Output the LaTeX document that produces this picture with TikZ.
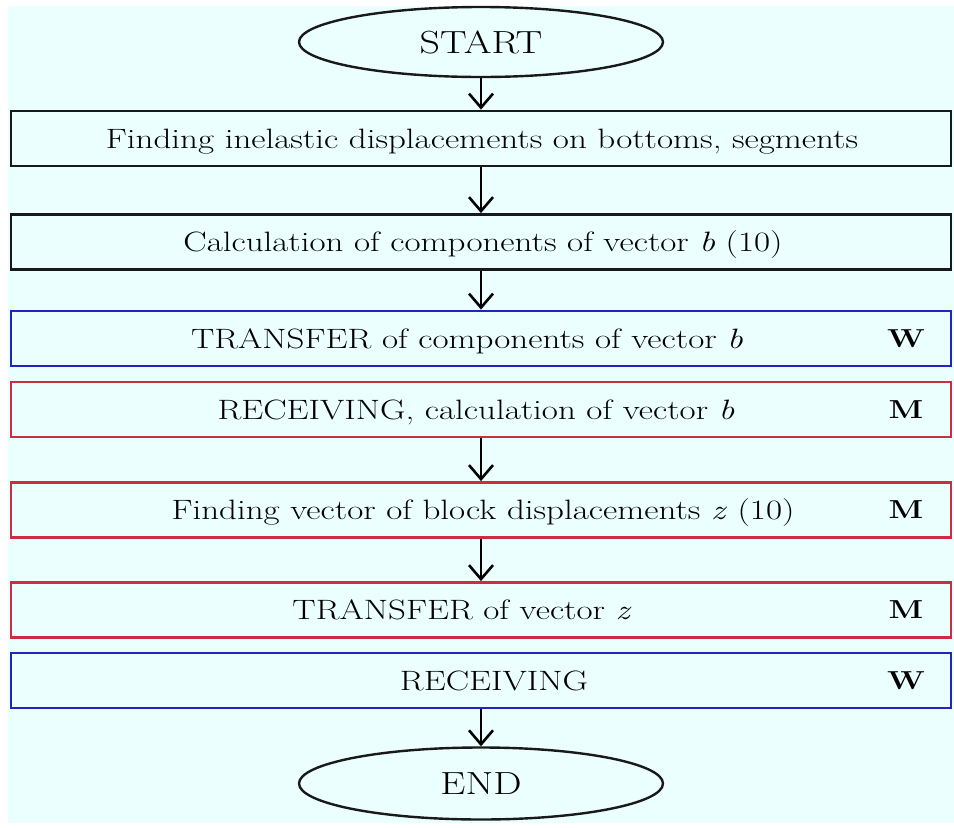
\documentclass[tikz,border=0pt]{standalone}
\usepackage{fontspec}
\setmainfont{Latin Modern Roman}[FakeStretch=1.25]
\usetikzlibrary{shapes.geometric,arrows.meta}
\definecolor{bgc}{RGB}{236,255,255}
\definecolor{bluec}{RGB}{35,35,190}
\definecolor{redc}{RGB}{205,45,65}
\definecolor{darkc}{RGB}{25,25,25}
\begin{document}
\begin{tikzpicture}[x=1pt,y=-1pt,
  box/.style={draw=darkc,line width=2.8pt,minimum width=940pt,minimum height=55pt,inner sep=0pt},
  bluebox/.style={box,draw=bluec},
  redbox/.style={box,draw=redc},
  term/.style={ellipse,draw=darkc,line width=2.4pt,minimum width=364pt,minimum height=70pt,inner sep=0pt,
    font=\fontsize{32}{36}\selectfont},
  txt/.style={anchor=base,inner sep=0pt,font=\fontsize{28}{32}\selectfont,text=black},
  tag/.style={anchor=base,inner sep=0pt,font=\fontsize{26}{30}\selectfont\bfseries,text=black},
  arr/.style={line width=2.6pt,draw=black,-{Straight Barb[length=14pt,width=24pt,line width=2.6pt]}}
]
\useasboundingbox (0,0) rectangle (954,828);
\fill[white] (0,0) rectangle (954,828);
\fill[bgc] (8,6) rectangle (954,823);

\node[term] (s) at (481,42) {START};
\node[box] (b1) at (481,138.5) {};
\node[box] (b2) at (481,242) {};
\node[bluebox] (b3) at (481,338.5) {};
\node[redbox] (b4) at (481,409.5) {};
\node[redbox] (b5) at (481,510) {};
\node[redbox] (b6) at (481,610) {};
\node[bluebox] (b7) at (481,680.5) {};
\node[term,minimum height=72pt] (e) at (481,783.5) {END};

\node[txt] (t1) at (482,148) {Finding inelastic displacements on bottoms, segments};
\node[txt] (t2) at (483,251.5) {Calculation of components of vector \textit{b} (10)};
\node[txt] (t3) at (467,348) {TRANSFER of components of vector \textit{b}};
\node[txt] (t4) at (476,419) {RECEIVING, calculation of vector \textit{b}};
\node[txt] (t5) at (483,519.5) {Finding vector of block displacements \textit{z} (10)};
\node[txt] (t6) at (462,619.5) {TRANSFER of vector \textit{z}};
\node[txt] (t7) at (494,690) {RECEIVING};

\node[tag] (w1) at (906,347) {W};
\node[tag] (m1) at (906,418) {M};
\node[tag] (m2) at (906,518.5) {M};
\node[tag] (m3) at (906,618.5) {M};
\node[tag] (w2) at (906,689) {W};

\draw[arr] (s) -- (b1);
\draw[arr] (b1) -- (b2);
\draw[arr] (b2) -- (b3);
\draw[arr] (b4) -- (b5);
\draw[arr] (b5) -- (b6);
\draw[arr] (b7) -- (e);
\end{tikzpicture}
\end{document}
